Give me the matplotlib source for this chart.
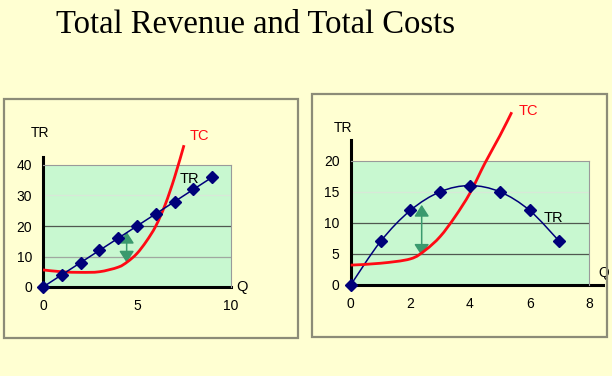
import numpy as np
import matplotlib
matplotlib.use('Agg')
import matplotlib.pyplot as plt
from matplotlib.path import Path
from matplotlib.patches import PathPatch, Rectangle

# left panel: linear total revenue
left_q = [0, 1, 2, 3, 4, 5, 6, 7, 8, 9]
left_tr = [0, 4, 8, 12, 16, 20, 24, 28, 32, 36]
left_tc_q = [0, 1, 2, 3, 4, 4.5, 5, 5.5, 6, 6.5, 7, 7.5]
left_tc = [5.6, 5.0, 4.8, 5.0, 6.5, 8.3, 11, 15, 20, 27, 36, 46.5]
left_arrow = (4.45, 18.1, 8.0)

# right panel: hump-shaped total revenue
right_q = [0, 1, 2, 3, 4, 5, 6, 7]
right_tr = [0, 7, 12, 15, 16, 15, 12, 7]
right_tc_q = [0, 1, 2, 2.5, 3, 3.5, 4, 4.5, 5, 5.4]
right_tc = [3.2, 3.5, 4.2, 5.6, 7.8, 11, 14.8, 19.6, 24, 27.8]
right_arrow = (2.38, 12.9, 4.7)

BG = '#ffffd2'
GREEN = '#c8f8d0'
NAVY = '#00007a'
RED = '#ff0a14'
ARROW = '#3a9a6e'
FONT = 'Liberation Sans'


def smooth(ax, xs, ys, **kw):
    # excel style smoothed line: catmull-rom segments drawn as cubic beziers
    p = np.column_stack([xs, ys]).astype(float)
    pts = [p[0]]
    codes = [Path.MOVETO]
    for i in range(len(p) - 1):
        p0 = p[i - 1] if i > 0 else p[i]
        p3 = p[i + 2] if i + 2 < len(p) else p[i + 1]
        c1 = p[i] + (p[i + 1] - p0) / 6
        c2 = p[i + 1] - (p3 - p[i]) / 6
        pts += [c1, c2, p[i + 1]]
        codes += [Path.CURVE4] * 3
    ax.add_patch(PathPatch(Path(pts, codes), facecolor='none', clip_on=False, **kw))


def panel(rect, xmax, ymax, ticks_x, ticks_y, grid, ytop, xend):
    ax = fig.add_axes(rect)
    ax.set_facecolor(GREEN)
    ax.set_xlim(0, xmax)
    ax.set_ylim(0, ymax)
    for s in ['top', 'right']:
        ax.spines[s].set_color('#9a9a9a')
        ax.spines[s].set_linewidth(0.8)
    for s in ['left', 'bottom']:
        ax.spines[s].set_visible(False)
    for val, col in grid:
        ax.axhline(val, color=col, lw=0.9, zorder=1)
    ax.plot([0, 0], [0, ytop], color='black', lw=2.2, clip_on=False, zorder=2)
    ax.plot([0, xend], [0, 0], color='black', lw=2.2, clip_on=False, zorder=2)
    ax.set_xticks(ticks_x)
    ax.set_yticks(ticks_y)
    ax.tick_params(length=0, labelsize=10, pad=9)
    ax.tick_params(axis='y', pad=8)
    for lab in ax.get_xticklabels() + ax.get_yticklabels():
        lab.set_fontfamily(FONT)
    return ax


def arrow(ax, a):
    q, top, bot = a
    ax.annotate('', xy=(q, top), xytext=(q, bot),
                arrowprops=dict(arrowstyle='<|-|>,head_length=0.7,head_width=0.45',
                                color=ARROW, lw=1.1, shrinkA=0, shrinkB=0), zorder=3)


fig = plt.figure(figsize=(6.12, 3.76), dpi=100, facecolor=BG)

fig.text(0.417, 0.913, 'Total Revenue and Total Costs', ha='center', va='baseline',
         fontsize=23.5, fontfamily='Liberation Serif')

# panel frames
for x0, y0, x1, y1 in [(4, 99, 298, 338), (312, 94, 607, 337)]:
    fig.add_artist(Rectangle((x0 / 612, 1 - y1 / 376), (x1 - x0) / 612, (y1 - y0) / 376,
                             transform=fig.transFigure, facecolor='none',
                             edgecolor='#8c8c78', lw=1.6))

# left chart
ax1 = panel([43 / 612, 1 - 287 / 376, 188 / 612, 122 / 376], 10, 40, [0, 5, 10],
            [0, 10, 20, 30, 40], [(10, '#a0a8a0'), (20, '#505850'), (30, '#d8e8d8')], 42.7, 10)
smooth(ax1, left_tc_q, left_tc, edgecolor=RED, lw=2.0, zorder=4)
ax1.plot(left_q, left_tr, color=NAVY, lw=1.1, marker='D', ms=6, clip_on=False, zorder=5)
arrow(ax1, left_arrow)
ax1.text(7.8, 35.3, 'TR', fontsize=10.5, fontfamily=FONT, ha='center', va='center')
ax1.text(8.3, 49.5, 'TC', fontsize=10.5, fontfamily=FONT, color=RED, ha='center', va='center')
ax1.text(-0.15, 50.5, 'TR', fontsize=10, fontfamily=FONT, ha='center', va='center')
ax1.text(10.6, 0, 'Q', fontsize=10.5, fontfamily=FONT, ha='center', va='center')

# right chart
ax2 = panel([350.7 / 612, 1 - 285 / 376, 238.6 / 612, 124.3 / 376], 8, 20, [0, 2, 4, 6, 8],
            [0, 5, 10, 15, 20], [(5, '#505850'), (10, '#505850'), (15, '#d8e8d8')], 23.3, 8.47)
smooth(ax2, right_q, right_tr, edgecolor=NAVY, lw=1.1, zorder=4)
ax2.plot(right_q, right_tr, ls='none', color=NAVY, marker='D', ms=6, clip_on=False, zorder=5)
smooth(ax2, right_tc_q, right_tc, edgecolor=RED, lw=2.0, zorder=4)
arrow(ax2, right_arrow)
ax2.text(6.8, 10.7, 'TR', fontsize=10.5, fontfamily=FONT, ha='center', va='center')
ax2.text(5.95, 28.0, 'TC', fontsize=10.5, fontfamily=FONT, color=RED, ha='center', va='center')
ax2.text(-0.25, 25.2, 'TR', fontsize=10, fontfamily=FONT, ha='center', va='center')
ax2.text(8.47, 1.9, 'Q', fontsize=10, fontfamily=FONT, ha='center', va='center')

fig.savefig('out.png', dpi=100, facecolor=BG)
